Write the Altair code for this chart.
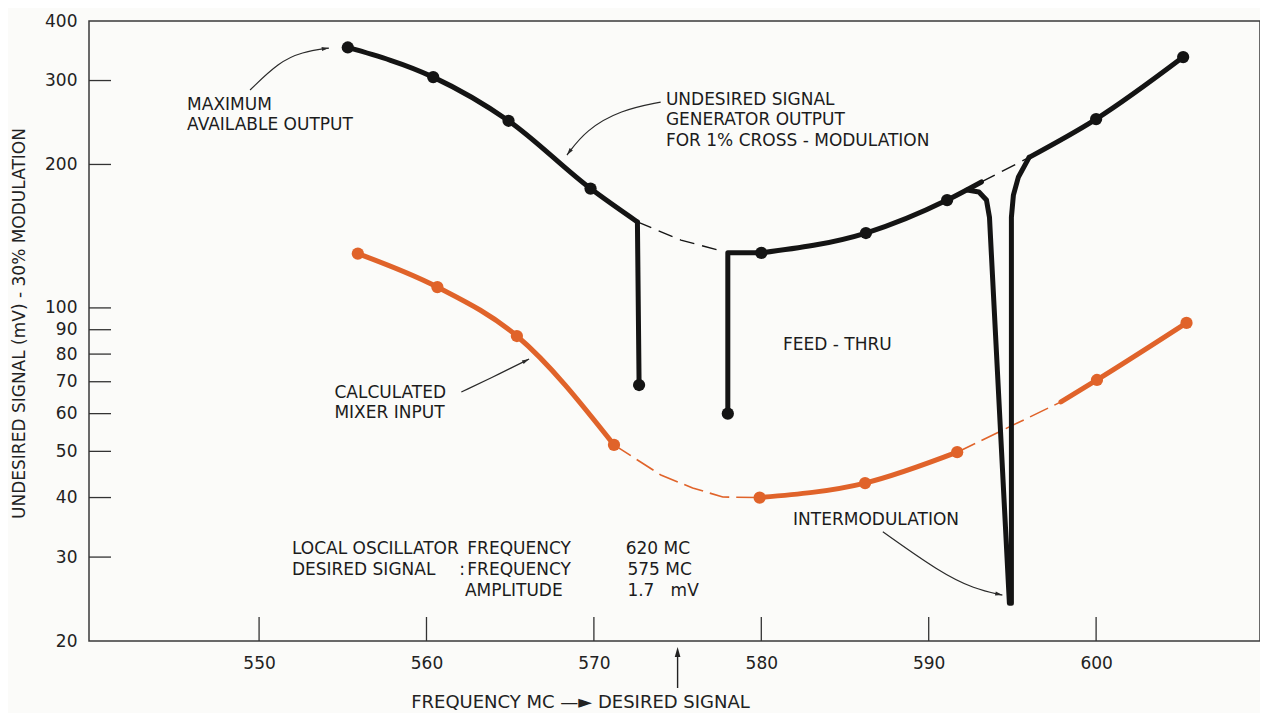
import altair as alt
import pandas as pd

# ---------------- data ----------------
# Undesired signal generator output for 1% cross-modulation (black)
gen_dot_x = [555.3, 560.4, 564.9, 569.8, 572.7, 578.0, 580.0, 586.25, 591.1, 600.0, 605.2]
gen_dot_y = [352, 305, 247, 178, 68.9, 60, 130.5, 143.6, 168.4, 249, 336]

gen_seg1_x = [555.3, 560.4, 564.9, 569.8, 572.6]
gen_seg1_y = [352, 305, 247, 178, 151.5]
gen_seg2_x = [580.0, 586.25, 591.1, 593.15]
gen_seg2_y = [130.5, 143.6, 168.4, 183.8]
gen_seg3_x = [596.0, 600.0, 605.2]
gen_seg3_y = [207, 249, 336]

feed1_x = [572.6, 572.7]
feed1_y = [151.5, 68.9]
feed2_x = [578.0, 578.0, 580.0]
feed2_y = [60, 130.5, 130.5]

imod_x = [592.3, 593.0, 593.45, 593.63, 594.82, 594.94, 594.94, 595.06, 595.36, 596.0]
imod_y = [176.7, 175.1, 168.4, 155, 24.0, 24.0, 155, 172.5, 188.3, 207]

gen_dash1_x = [572.6, 575.2, 577.4]
gen_dash1_y = [151.5, 138.8, 132.3]
gen_dash2_x = [593.15, 596.0]
gen_dash2_y = [183.8, 207]

# Calculated mixer input (orange)
mix_dot_x = [555.9, 560.65, 565.4, 571.2, 579.9, 586.2, 591.7, 600.05, 605.4]
mix_dot_y = [130, 110.6, 87.3, 51.6, 40, 42.9, 49.8, 70.6, 93]

mix_seg1_x = [555.9, 560.65, 565.4, 571.2]
mix_seg1_y = [130, 110.6, 87.3, 51.6]
mix_seg2_x = [579.9, 586.2, 591.7]
mix_seg2_y = [40, 42.9, 49.8]
mix_seg3_x = [597.9, 600.05, 605.4]
mix_seg3_y = [63.5, 70.6, 93]

mix_dash1_x = [571.2, 574.0, 575.9, 577.7, 579.9]
mix_dash1_y = [51.6, 44.6, 41.9, 40.1, 40]
mix_dash2_x = [591.7, 597.9]
mix_dash2_y = [49.8, 63.5]

# annotation arrows
arrow_max_x = [549.46, 551.19, 552.56, 554.17]
arrow_max_y = [286.6, 328, 344.3, 351]
arrow_gen_x = [573.99, 571.6, 569.52, 568.39]
arrow_gen_y = [270.4, 260.2, 236.2, 209.3]
arrow_mix_x = [562.08, 564.46, 566.13]
arrow_mix_y = [66.6, 73.0, 78.1]
arrow_imod_x = [587.26, 590.65, 592.74, 594.4]
arrow_imod_y = [33.9, 27.9, 25.7, 24.97]
head_angle = [82, 217, 63, 102]

# annotation texts
note_text = ["MAXIMUM", "AVAILABLE OUTPUT",
             "UNDESIRED SIGNAL", "GENERATOR OUTPUT", "FOR 1% CROSS - MODULATION",
             "FEED - THRU", "CALCULATED", "MIXER INPUT", "INTERMODULATION",
             "LOCAL OSCILLATOR", "FREQUENCY", "620 MC",
             "DESIRED SIGNAL", ":", "FREQUENCY", "575 MC",
             "AMPLITUDE", "1.7\u00a0\u00a0\u00a0mV"]
note_x = [545.7, 545.7,
          574.3, 574.3, 574.3,
          581.3, 554.5, 554.5, 581.9,
          551.96, 562.44, 571.9,
          551.96, 561.95, 562.44, 572.0,
          562.3, 572.0]
note_y = [266.6, 242,
          273, 247.9, 224,
          83.6, 66.3, 60.2, 35.9,
          31.2, 31.2, 31.2,
          28.2, 28.2, 28.2, 28.2,
          25.5, 25.5]

x_ticks = [550, 560, 570, 580, 590, 600]
y_ticks = [20, 30, 40, 50, 60, 70, 80, 90, 100, 200, 300, 400]
y_inner_ticks = [30, 40, 50, 60, 70, 80, 90, 100, 200, 300]
desired_signal = [575]

# ---------------- tables ----------------
def seg(name, style, xs, ys):
    return [{"seg": name, "style": style, "o": i, "x": a, "y": b}
            for i, (a, b) in enumerate(zip(xs, ys))]

rows = []
rows += seg("g1", "gen_solid", gen_seg1_x, gen_seg1_y)
rows += seg("g2", "gen_solid", gen_seg2_x, gen_seg2_y)
rows += seg("g3", "gen_solid", gen_seg3_x, gen_seg3_y)
rows += seg("f1", "gen_lin", feed1_x, feed1_y)
rows += seg("f2", "gen_lin", feed2_x, feed2_y)
rows += seg("im", "gen_lin", imod_x, imod_y)
rows += seg("gd1", "gen_dash", gen_dash1_x, gen_dash1_y)
rows += seg("gd2", "gen_dash", gen_dash2_x, gen_dash2_y)
rows += seg("m1", "mix_solid", mix_seg1_x, mix_seg1_y)
rows += seg("m2", "mix_solid", mix_seg2_x, mix_seg2_y)
rows += seg("m3", "mix_solid", mix_seg3_x, mix_seg3_y)
rows += seg("md1", "mix_dash", mix_dash1_x, mix_dash1_y)
rows += seg("md2", "mix_dash", mix_dash2_x, mix_dash2_y)
rows += seg("a1", "arrow", arrow_max_x, arrow_max_y)
rows += seg("a2", "arrow", arrow_gen_x, arrow_gen_y)
rows += seg("a3", "arrow", arrow_mix_x, arrow_mix_y)
rows += seg("a4", "arrow", arrow_imod_x, arrow_imod_y)
lines = pd.DataFrame(rows)

gen_dots = pd.DataFrame({"x": gen_dot_x, "y": gen_dot_y})
mix_dots = pd.DataFrame({"x": mix_dot_x, "y": mix_dot_y})
heads = pd.DataFrame({
    "x": [arrow_max_x[-1], arrow_gen_x[-1], arrow_mix_x[-1], arrow_imod_x[-1]],
    "y": [arrow_max_y[-1], arrow_gen_y[-1], arrow_mix_y[-1], arrow_imod_y[-1]],
    "a": head_angle,
})
notes = pd.DataFrame({"x": note_x, "y": note_y, "t": note_text})
xt = pd.DataFrame({"x": x_ticks})
yt = pd.DataFrame({"y": y_inner_ticks})
ds = pd.DataFrame({"x": desired_signal})

# ---------------- styling ----------------
FONT = "DejaVu Sans"
INK = "#141414"
ORANGE = "#e0632a"
ARROW_PATH = "M0,0L0.45,1.6L-0.45,1.6Z"

xs = alt.Scale(domain=[539.84, 609.79], nice=False, zero=False)
ys = alt.Scale(type="log", domain=[20, 400], nice=False)

xax = alt.Axis(values=x_ticks, format="d", ticks=False, domain=False, grid=False,
               labelFont=FONT, labelFontSize=17, labelColor="#222", labelPadding=14,
               labelFlush=False, labelOverlap=False,
               title="FREQUENCY MC \u2014\u25ba DESIRED SIGNAL", titleFont=FONT,
               titleFontSize=18, titleFontWeight="normal", titleColor="#222",
               titleX=491, titleY=61, titleAlign="center", titleBaseline="middle")
yax = alt.Axis(values=y_ticks, format="d", ticks=False, domain=False, grid=False,
               labelFont=FONT, labelFontSize=17, labelColor="#222", labelPadding=12,
               labelFlush=False, labelOverlap=False,
               title="UNDESIRED SIGNAL (mV) - 30% MODULATION", titleFont=FONT,
               titleFontSize=17, titleFontWeight="normal", titleColor="#222",
               titleAngle=270, titleX=-70, titleY=302, titleAlign="center",
               titleBaseline="middle")

X = alt.X("x:Q", scale=xs, axis=xax)
Y = alt.Y("y:Q", scale=ys, axis=yax)

base = alt.Chart(lines)


def line_layer(style, **kw):
    return base.transform_filter(alt.datum.style == style).mark_line(**kw).encode(
        x=X, y=Y, detail="seg:N", order="o:Q")


gen_dash = line_layer("gen_dash", color=INK, strokeWidth=1.4, strokeDash=[15, 8])
mix_dash = line_layer("mix_dash", color=ORANGE, strokeWidth=1.6, strokeDash=[20, 7])
gen_solid = line_layer("gen_solid", color=INK, strokeWidth=5, interpolate="monotone",
                       strokeCap="round")
gen_lin = line_layer("gen_lin", color=INK, strokeWidth=5, strokeJoin="round",
                     strokeCap="round")
mix_solid = line_layer("mix_solid", color=ORANGE, strokeWidth=5, interpolate="monotone",
                       strokeCap="round")
arrows = line_layer("arrow", color="#2a2a2a", strokeWidth=1.2, interpolate="basis")

gen_pts = alt.Chart(gen_dots).mark_circle(size=150, color=INK, opacity=1).encode(x=X, y=Y)
mix_pts = alt.Chart(mix_dots).mark_circle(size=150, color=ORANGE, opacity=1).encode(x=X, y=Y)

head_pts = alt.Chart(heads).mark_point(shape=ARROW_PATH, filled=True, size=80,
                                       color="#2a2a2a", opacity=1).encode(
    x=X, y=Y, angle=alt.Angle("a:Q", scale=None))

texts = alt.Chart(notes).mark_text(align="left", baseline="middle", font=FONT,
                                   fontSize=17, color="#1c1c1c").encode(
    x=X, y=Y, text="t:N")

x_tick_rules = alt.Chart(xt).mark_rule(color="#333", strokeWidth=1.3).encode(
    x=X, y=alt.value(620), y2=alt.value(596))
y_tick_rules = alt.Chart(yt).mark_rule(color="#333", strokeWidth=1.3).encode(
    y=Y, x=alt.value(0), x2=alt.value(22))

ds_rule = alt.Chart(ds).mark_rule(color="#222", strokeWidth=1.4).encode(
    x=X, y=alt.value(634), y2=alt.value(667))
ds_head = alt.Chart(ds).mark_point(shape=ARROW_PATH, filled=True, size=160,
                                   color="#222", opacity=1).encode(
    x=X, y=alt.value(626), angle=alt.value(0))

chart = alt.layer(
    x_tick_rules, y_tick_rules, gen_dash, mix_dash, arrows, head_pts,
    mix_solid, mix_pts, gen_solid, gen_lin, gen_pts, texts, ds_rule, ds_head,
).properties(
    width=1171, height=620,
    autosize=alt.AutoSizeParams(type="none"),
    padding={"left": 81, "top": 13, "right": 0, "bottom": 72},
    background="#fbfbf9",
).configure_view(stroke="#3a3a3a", strokeWidth=1.5)

chart.save("out.html", embed_options={"renderer": "svg", "actions": False})
